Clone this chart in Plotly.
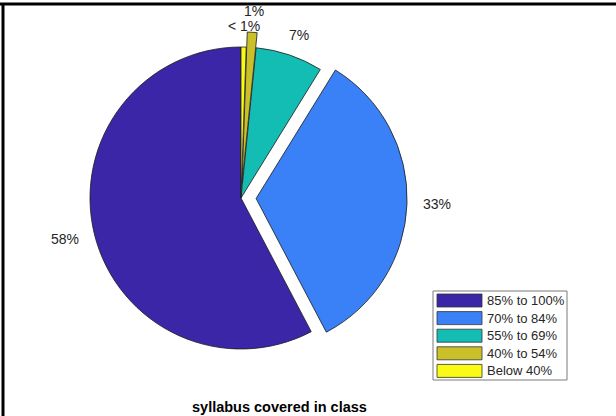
import math
import plotly.graph_objects as go

categories = ["85% to 100%", "70% to 84%", "55% to 69%", "40% to 54%", "Below 40%"]
shares = [57.7, 33.5, 7.2, 1.05, 0.55]
slice_labels = ["58%", "33%", "7%", "1%", "< 1%"]
explode = [0, 0.1, 0, 0.1, 0]
colors = ["#3c26a8", "#3a80f6", "#14bdb3", "#c9c02a", "#f9fb15"]

W, H = 616, 416
FONT = "Liberation Sans, Arial, Helvetica, sans-serif"

# pie placement in pixels (centre, radius); domain leaves room for the pull
CX, CY, R = 241, 198, 151
half = R * (1 + max(explode))

total = sum(shares)
# plotly's counterclockwise pies end the first slice at the start angle,
# so turn it so the first slice begins at 12 o'clock (like MATLAB)
start_rot = 360 - shares[0] / total * 360

fig = go.Figure(
    go.Pie(
        labels=categories,
        values=shares,
        textinfo="none",
        sort=False,
        direction="counterclockwise",
        rotation=start_rot,
        pull=explode,
        marker=dict(colors=colors, line=dict(color="#1a1a1a", width=0.8)),
        domain=dict(x=[(CX - half) / W, (CX + half) / W],
                    y=[(H - CY - half) / H, (H - CY + half) / H]),
        showlegend=False,
        hoverinfo="label+percent",
    )
)

annotations = []
# percentage labels, MATLAB style: centred a bit outside each slice's middle
cum = 0
for val, txt, pull in zip(shares, slice_labels, explode):
    mid = math.radians(90 + 360 * (cum + val / 2) / total)
    cum += val
    ox, oy = pull * R * math.cos(mid), pull * R * math.sin(mid)
    px = CX + ox + 1.2 * R * math.cos(mid)
    py = CY - oy - 1.14 * R * math.sin(mid)
    annotations.append(dict(text=txt, x=px / W, y=(H - py) / H, xref="paper", yref="paper",
                            xanchor="center", yanchor="middle", showarrow=False,
                            font=dict(family=FONT, size=14, color="#262626")))

shapes = [
    # figure frame (top and left edges)
    dict(type="line", xref="paper", yref="paper", x0=0, x1=1, y0=(H - 4) / H, y1=(H - 4) / H,
         line=dict(color="black", width=3)),
    dict(type="line", xref="paper", yref="paper", x0=3 / W, x1=3 / W, y0=0, y1=(H - 4) / H,
         line=dict(color="black", width=3)),
    # legend box
    dict(type="rect", xref="paper", yref="paper", x0=433 / W, x1=567 / W,
         y0=(H - 380) / H, y1=(H - 291) / H, line=dict(color="#7a7a7a", width=1),
         fillcolor="white"),
]
for i, (name, col) in enumerate(zip(categories, colors)):
    yc = 300.5 + i * 17.6
    shapes.append(dict(type="rect", xref="paper", yref="paper", x0=437 / W, x1=482 / W,
                       y0=(H - yc - 6.5) / H, y1=(H - yc + 6.5) / H,
                       fillcolor=col, line=dict(color="#333333", width=0.8)))
    annotations.append(dict(text=name, x=485 / W, y=(H - yc) / H, xref="paper", yref="paper",
                            xanchor="left", yanchor="middle", showarrow=False,
                            font=dict(family=FONT, size=13, color="#262626")))

annotations.append(dict(text="<b>syllabus covered in class</b>", x=279 / W, y=(H - 407) / H,
                        xref="paper", yref="paper", xanchor="center", yanchor="middle",
                        showarrow=False, font=dict(family=FONT, size=14.5, color="black")))

fig.update_layout(
    width=W,
    height=H,
    margin=dict(l=0, r=0, t=0, b=0, autoexpand=False),
    paper_bgcolor="white",
    plot_bgcolor="white",
    shapes=shapes,
    annotations=annotations,
)

fig.write_html("out.html", config={"displayModeBar": False},
               post_script="document.body.style.margin='0';")
